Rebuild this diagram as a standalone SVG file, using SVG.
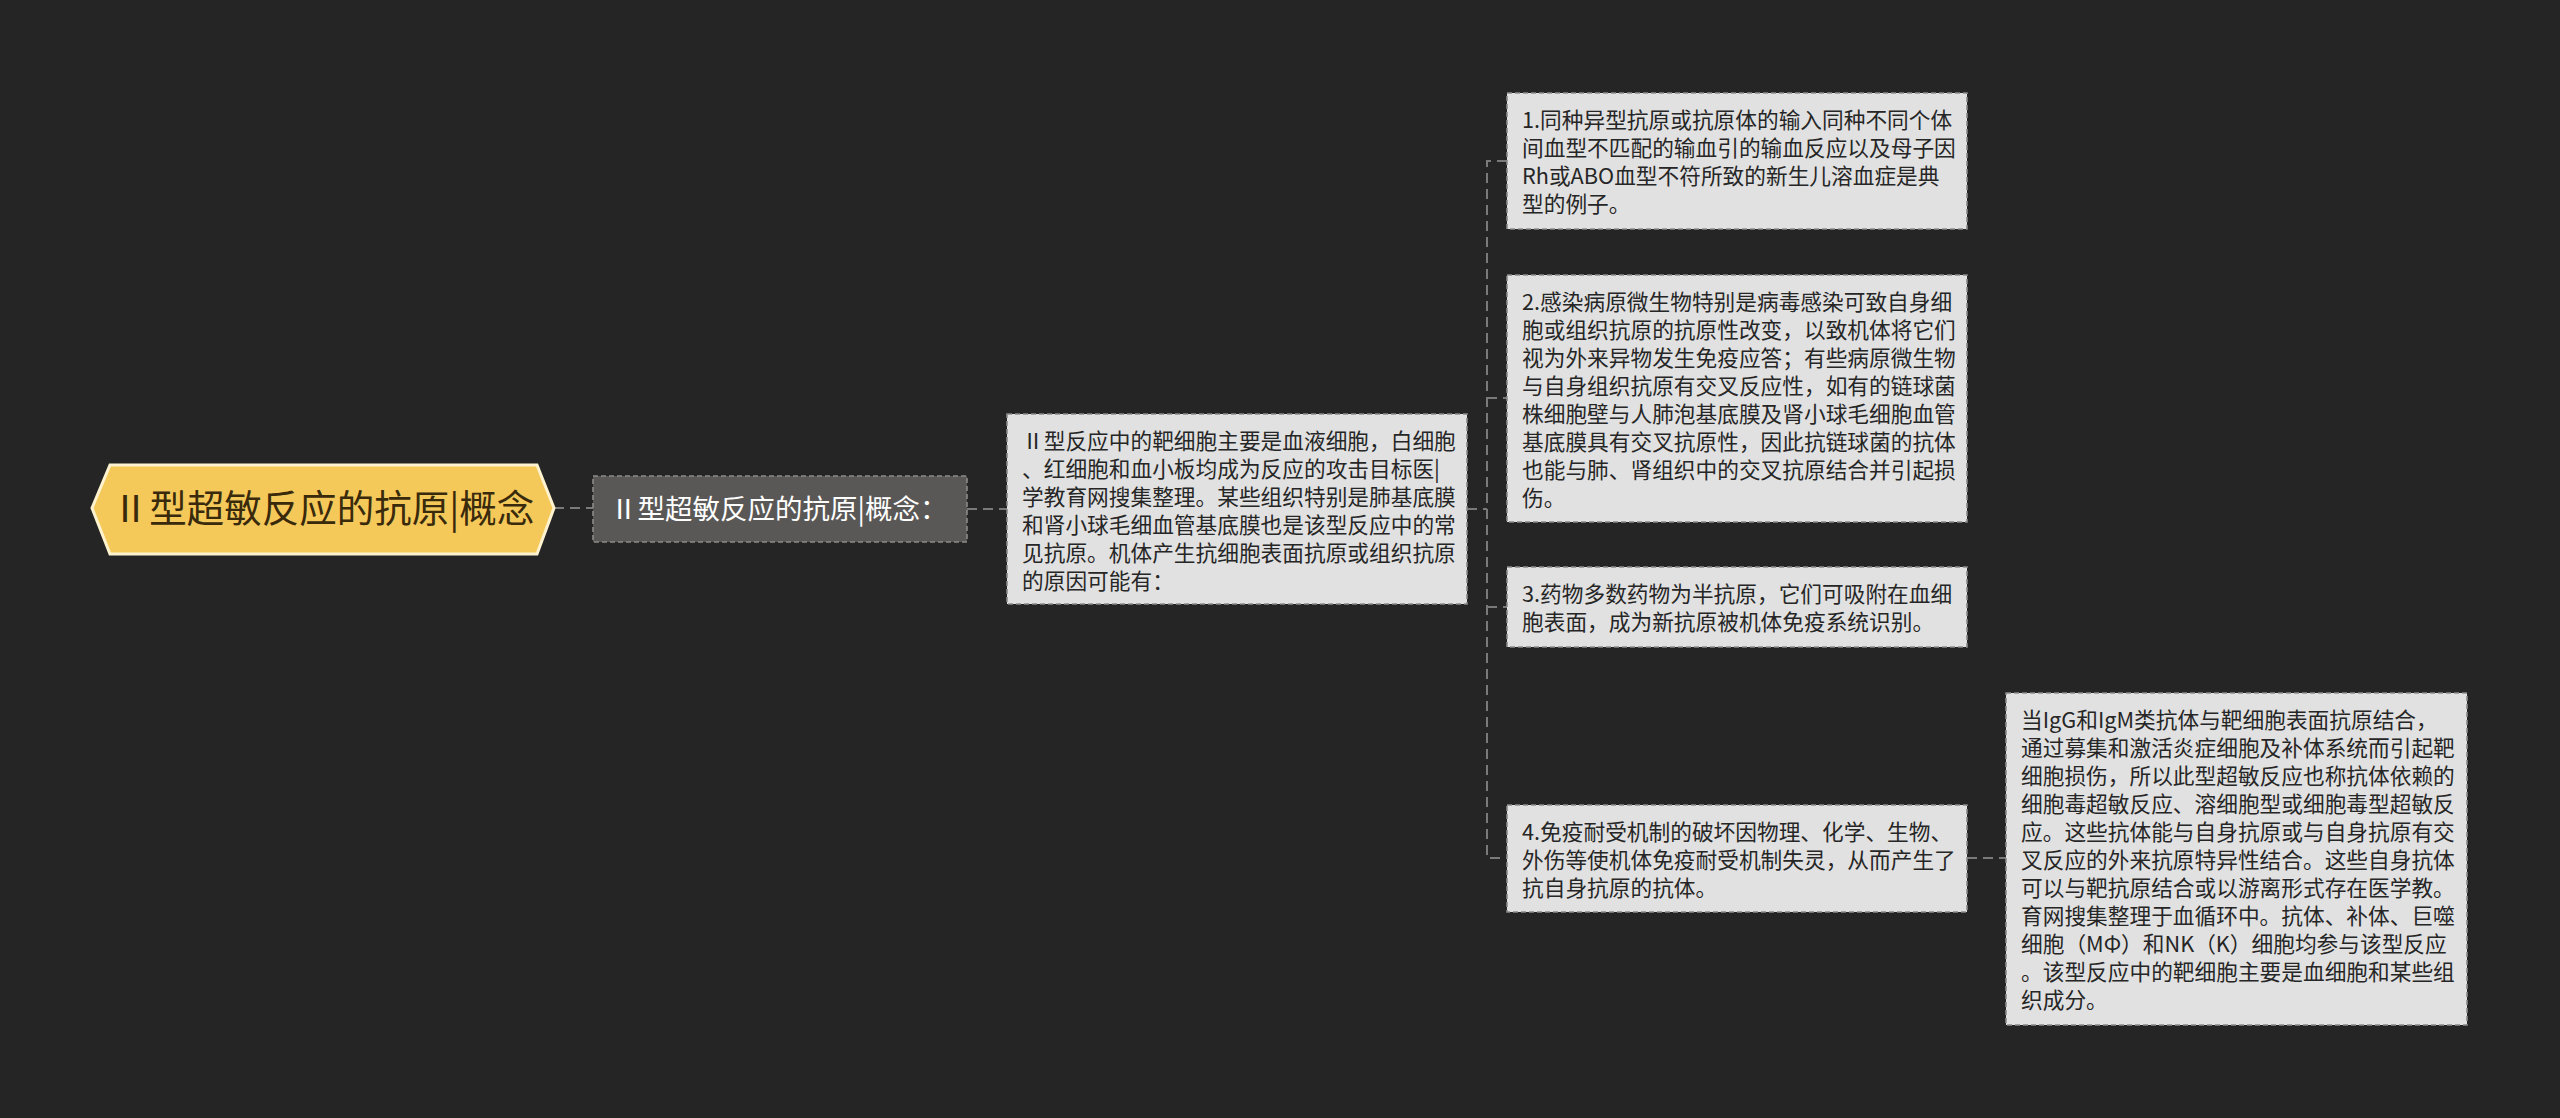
<svg xmlns="http://www.w3.org/2000/svg" width="2560" height="1118" viewBox="0 0 2560 1118">
<style>
.bg{fill:#252525}
.con{fill:none;stroke:#7a7a7a;stroke-width:2;stroke-dasharray:10 6}
.box{fill:#e1e1e1;stroke:#8a8a8a;stroke-width:1.6;stroke-dasharray:5 3}
.t{font-family:"Noto Sans CJK SC","Noto Sans",sans-serif;font-size:21.7px;fill:#262626}
.root{fill:#f4c95a;stroke:#fff3cf;stroke-width:3}
.rt{font-family:"Noto Sans CJK SC","Noto Sans",sans-serif;font-size:37.5px;fill:#3a2a0c}
.sub{fill:#5a5856;stroke:#8c8a88;stroke-width:1.6;stroke-dasharray:5 3}
.st{font-family:"Noto Sans CJK SC","Noto Sans",sans-serif;font-size:27.5px;fill:#ffffff}
</style>
<rect class="bg" x="0" y="0" width="2560" height="1118"/>
<g id="connectors">
<path class="con" d="M554,508 H593"/>
<path class="con" d="M967,509 H1007"/>
<path class="con" d="M1467,509 H1487"/>
<path class="con" d="M1507,161 H1487 V858 H1507"/>
<path class="con" d="M1487,398 H1507"/>
<path class="con" d="M1487,607 H1507"/>
<path class="con" d="M1967,858 H2006"/>
</g>
<g id="root">
<polygon class="root" points="92,508 110,465 537,465 554,508 537,554 110,554"/>
<text class="rt" x="323" y="522" text-anchor="middle">Ⅱ型超敏反应的抗原|概念</text>
</g>
<g id="n-sub">
<rect class="sub" x="593" y="476" width="374" height="66"/>
<text class="st" x="610" y="519">Ⅱ型超敏反应的抗原|概念：</text>
</g>
<g id="n-main">
<rect class="box" x="1007" y="414" width="460" height="190"/>
<text class="t" x="1022" y="449"><tspan x="1022">Ⅱ型反应中的靶细胞主要是血液细胞，白细胞</tspan><tspan x="1022" dy="28">、红细胞和血小板均成为反应的攻击目标医|</tspan><tspan x="1022" dy="28">学教育网搜集整理。某些组织特别是肺基底膜</tspan><tspan x="1022" dy="28">和肾小球毛细血管基底膜也是该型反应中的常</tspan><tspan x="1022" dy="28">见抗原。机体产生抗细胞表面抗原或组织抗原</tspan><tspan x="1022" dy="28">的原因可能有：</tspan></text>
</g>
<g id="n1">
<rect class="box" x="1507" y="93" width="460" height="136"/>
<text class="t" x="1522" y="128"><tspan x="1522">1.同种异型抗原或抗原体的输入同种不同个体</tspan><tspan x="1522" dy="28">间血型不匹配的输血引的输血反应以及母子因</tspan><tspan x="1522" dy="28">Rh或ABO血型不符所致的新生儿溶血症是典</tspan><tspan x="1522" dy="28">型的例子。</tspan></text>
</g>
<g id="n2">
<rect class="box" x="1507" y="275" width="460" height="247"/>
<text class="t" x="1522" y="310"><tspan x="1522">2.感染病原微生物特别是病毒感染可致自身细</tspan><tspan x="1522" dy="28">胞或组织抗原的抗原性改变，以致机体将它们</tspan><tspan x="1522" dy="28">视为外来异物发生免疫应答；有些病原微生物</tspan><tspan x="1522" dy="28">与自身组织抗原有交叉反应性，如有的链球菌</tspan><tspan x="1522" dy="28">株细胞壁与人肺泡基底膜及肾小球毛细胞血管</tspan><tspan x="1522" dy="28">基底膜具有交叉抗原性，因此抗链球菌的抗体</tspan><tspan x="1522" dy="28">也能与肺、肾组织中的交叉抗原结合并引起损</tspan><tspan x="1522" dy="28">伤。</tspan></text>
</g>
<g id="n3">
<rect class="box" x="1507" y="567" width="460" height="80"/>
<text class="t" x="1522" y="602"><tspan x="1522">3.药物多数药物为半抗原，它们可吸附在血细</tspan><tspan x="1522" dy="28">胞表面，成为新抗原被机体免疫系统识别。</tspan></text>
</g>
<g id="n4">
<rect class="box" x="1507" y="805" width="460" height="107"/>
<text class="t" x="1522" y="840"><tspan x="1522">4.免疫耐受机制的破坏因物理、化学、生物、</tspan><tspan x="1522" dy="28">外伤等使机体免疫耐受机制失灵，从而产生了</tspan><tspan x="1522" dy="28">抗自身抗原的抗体。</tspan></text>
</g>
<g id="n5">
<rect class="box" x="2006" y="693" width="461" height="332"/>
<text class="t" x="2021" y="728"><tspan x="2021">当IgG和IgM类抗体与靶细胞表面抗原结合，</tspan><tspan x="2021" dy="28">通过募集和激活炎症细胞及补体系统而引起靶</tspan><tspan x="2021" dy="28">细胞损伤，所以此型超敏反应也称抗体依赖的</tspan><tspan x="2021" dy="28">细胞毒超敏反应、溶细胞型或细胞毒型超敏反</tspan><tspan x="2021" dy="28">应。这些抗体能与自身抗原或与自身抗原有交</tspan><tspan x="2021" dy="28">叉反应的外来抗原特异性结合。这些自身抗体</tspan><tspan x="2021" dy="28">可以与靶抗原结合或以游离形式存在医学教。</tspan><tspan x="2021" dy="28">育网搜集整理于血循环中。抗体、补体、巨噬</tspan><tspan x="2021" dy="28">细胞（MΦ）和NK（K）细胞均参与该型反应</tspan><tspan x="2021" dy="28">。该型反应中的靶细胞主要是血细胞和某些组</tspan><tspan x="2021" dy="28">织成分。</tspan></text>
</g>
</svg>
